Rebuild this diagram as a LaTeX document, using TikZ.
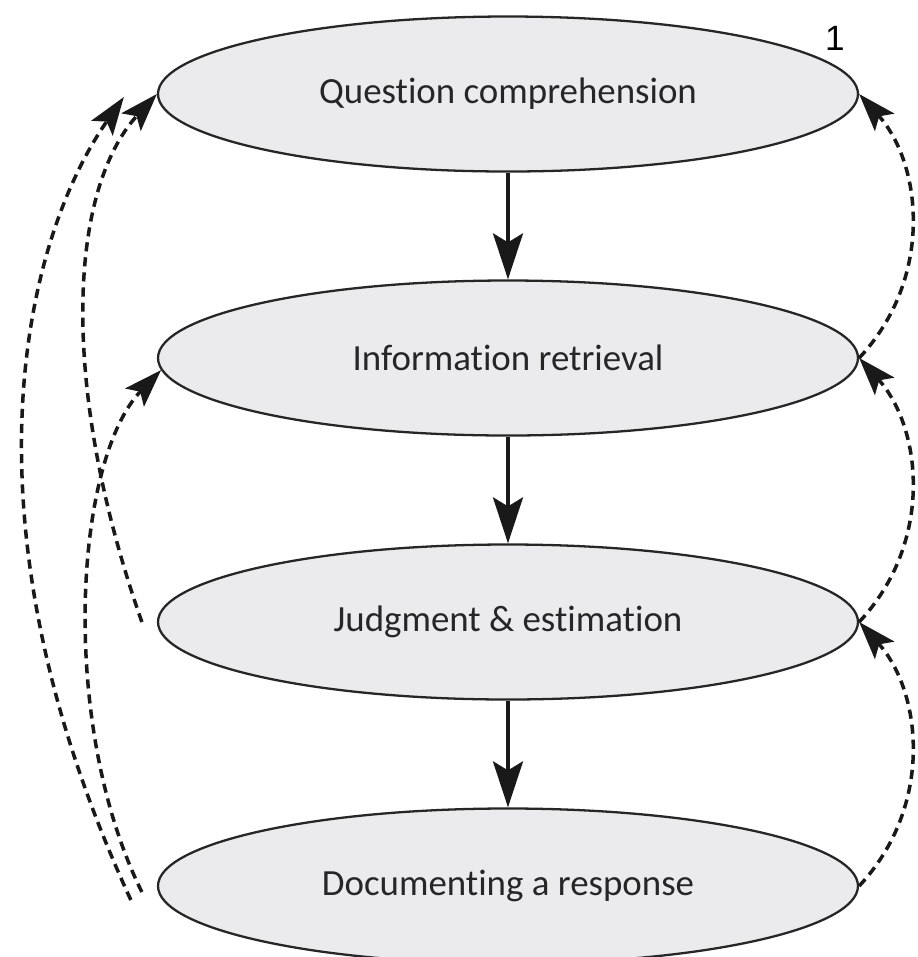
\documentclass[tikz,border=0pt]{standalone}
\usepackage[dvipsnames]{xcolor}
\usepackage{fontspec}
\setmainfont[Ligatures=NoCommon]{Carlito}
\newfontfamily\labelfont{Liberation Sans}
\usetikzlibrary{positioning,arrows.meta,shapes.geometric}
\definecolor{stagefill}{RGB}{235,235,237}

\begin{document}
\begin{tikzpicture}[-,>=Stealth,auto,node distance=2.64cm,thick,
    main node/.style={ellipse,draw=black!85,line width=0.65pt,fill=stagefill,minimum width=7cm,minimum height=1.55cm,inner sep=0pt,text=black!85,font=\fontsize{10.5}{12}\selectfont},
    down edge/.style={-{Stealth[length=4.6mm,width=3mm,inset=0.9mm]},line width=1pt,draw=black!90},
    back edge/.style={-{Stealth[length=3.8mm,width=2.6mm,inset=0.8mm]},dash pattern=on 2.6pt off 1.7pt,line width=1pt,draw=black!90}]

            \useasboundingbox (0,0) rectangle (9.18,-9.57);

            \node[main node] (1) at (5.08,-0.94) {Question comprehension};
            \node[main node] (2) [below of = 1] {Information retrieval};
            \node[main node] (3) [below of = 2] {Judgment \& estimation};
            \node[main node] (4) [below of = 3] {Documenting a response};
            \node[font=\labelfont\fontsize{10}{12}\selectfont] (n) at (8.35,-0.38) {1};

            \draw[down edge] (1) to (2);
            \draw[down edge] (2) to (3);
            \draw[down edge] (3) to (4);

            % left side, back to earlier stages
            \draw[back edge] ([shift={(-0.26,-0.14)}]4.west) .. controls +(-1.75,3.8) and +(-1.0,-1.43) .. ([shift={(-0.33,-0.03)}]1.west);
            \draw[back edge] ([shift={(-0.15,-0.06)}]4.west) .. controls +(-0.83,1.68) and +(-0.87,-0.9) .. (2.182);
            \draw[back edge] ([xshift=-0.15cm]3.west) .. controls +(-0.83,2.37) and +(-0.88,-0.96) .. (1.west);

            % right side
            \draw[back edge] (2.east) .. controls +(0.75,0.8) and +(0.63,-0.7) .. (1.east);
            \draw[back edge] (3.east) .. controls +(0.75,0.8) and +(0.63,-0.7) .. (2.east);
            \draw[back edge] (4.east) .. controls +(0.75,0.8) and +(0.63,-0.7) .. (3.east);

            ;
        \end{tikzpicture}
\end{document}
